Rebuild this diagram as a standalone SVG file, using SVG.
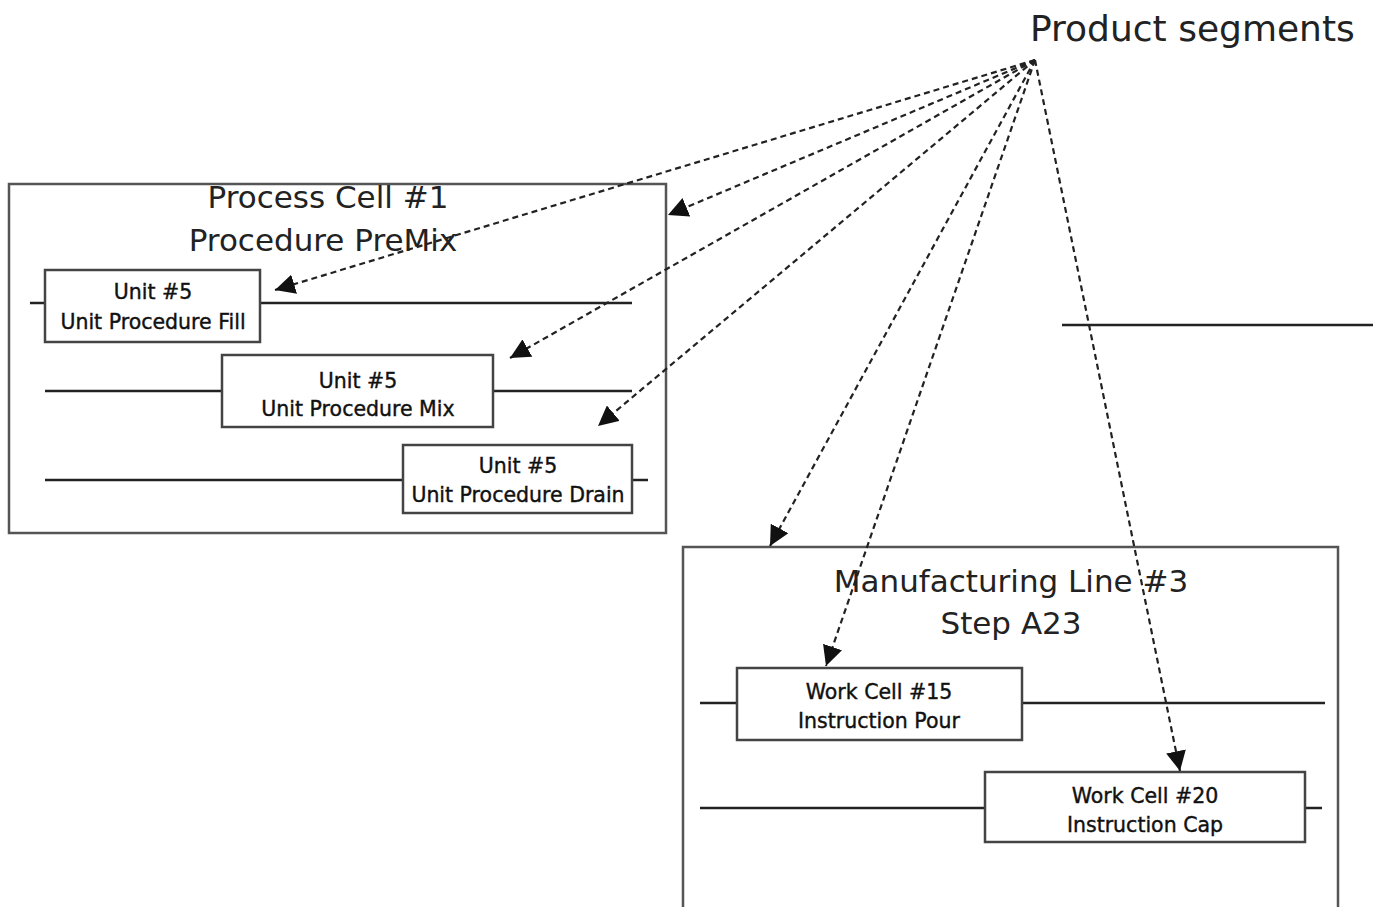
<svg xmlns="http://www.w3.org/2000/svg" width="1373" height="907" viewBox="0 0 1373 907">
  <defs>
    <marker id="arrow" viewBox="0 0 10 10" refX="10" refY="5" markerWidth="20" markerHeight="20" markerUnits="userSpaceOnUse" orient="auto">
      <path d="M0,0 L10,5 L0,10 z" fill="#111"/>
    </marker>
    <style>
      .frame { fill: #fff; stroke: #555; stroke-width: 2.5; }
      .box { fill: #fff; stroke: #444; stroke-width: 2.5; }
      .rail { stroke: #222; stroke-width: 2.5; fill: none; }
      .title { font-family: "DejaVu Sans", sans-serif; font-size: 31px; fill: #222; text-anchor: middle; }
      .label { font-family: "DejaVu Sans", sans-serif; font-size: 20.5px; fill: #111; stroke: #111; stroke-width: 0.4; text-anchor: middle; }
      .head { font-family: "DejaVu Sans", sans-serif; font-size: 36px; fill: #222; }
      .link { stroke: #222; stroke-width: 2.2; stroke-dasharray: 6 4; fill: none; marker-end: url(#arrow); }
    </style>
  </defs>
  <rect width="1373" height="907" fill="#fff"/>

  <!-- standalone heading -->
  <g id="product-segments">
    <text class="head" x="1030" y="41">Product segments</text>
  </g>

  <!-- loose rail on the right -->
  <line class="rail" x1="1062" y1="325" x2="1373" y2="325" stroke-width="1.5"/>

  <!-- batch area -->
  <g id="process-cell">
    <rect class="frame" x="9" y="184" width="657" height="349"/>
    <text class="title" x="328" y="208">Process Cell #1</text>
    <text class="title" x="323" y="251">Procedure PreMix</text>
  </g>
  <g id="rails-batch">
    <line class="rail" x1="30" y1="303" x2="45" y2="303"/>
    <line class="rail" x1="260" y1="303" x2="632" y2="303"/>
    <line class="rail" x1="45" y1="391" x2="222" y2="391"/>
    <line class="rail" x1="493" y1="391" x2="632" y2="391"/>
    <line class="rail" x1="45" y1="480" x2="403" y2="480"/>
    <line class="rail" x1="632" y1="480" x2="648" y2="480"/>
  </g>
  <g id="unit-fill">
    <rect class="box" x="45" y="270" width="215" height="72"/>
    <text class="label" x="153" y="299">Unit #5</text>
    <text class="label" x="153" y="329">Unit Procedure Fill</text>
  </g>
  <g id="unit-mix">
    <rect class="box" x="222" y="355" width="271" height="72"/>
    <text class="label" x="358" y="388">Unit #5</text>
    <text class="label" x="358" y="416">Unit Procedure Mix</text>
  </g>
  <g id="unit-drain">
    <rect class="box" x="403" y="445" width="229" height="68"/>
    <text class="label" x="518" y="473">Unit #5</text>
    <text class="label" x="518" y="502">Unit Procedure Drain</text>
  </g>

  <!-- discrete area -->
  <g id="manufacturing-line">
    <rect class="frame" x="683" y="547" width="655" height="380"/>
    <text class="title" x="1011" y="592">Manufacturing Line #3</text>
    <text class="title" x="1011" y="634">Step A23</text>
  </g>
  <g id="rails-discrete">
    <line class="rail" x1="700" y1="703" x2="737" y2="703"/>
    <line class="rail" x1="1022" y1="703" x2="1325" y2="703"/>
    <line class="rail" x1="700" y1="808" x2="985" y2="808"/>
    <line class="rail" x1="1305" y1="808" x2="1322" y2="808"/>
  </g>
  <g id="work-cell-15">
    <rect class="box" x="737" y="668" width="285" height="72"/>
    <text class="label" x="879" y="699">Work Cell #15</text>
    <text class="label" x="879" y="728">Instruction Pour</text>
  </g>
  <g id="work-cell-20">
    <rect class="box" x="985" y="772" width="320" height="70"/>
    <text class="label" x="1145" y="803">Work Cell #20</text>
    <text class="label" x="1145" y="832">Instruction Cap</text>
  </g>

  <!-- links from the product segments -->
  <g id="connectors">
    <line class="link" x1="1035" y1="60" x2="275" y2="290"/>
    <line class="link" x1="1035" y1="60" x2="668" y2="215"/>
    <line class="link" x1="1035" y1="60" x2="510" y2="358"/>
    <line class="link" x1="1035" y1="60" x2="598" y2="426"/>
    <line class="link" x1="1035" y1="60" x2="770" y2="546"/>
    <line class="link" x1="1035" y1="60" x2="826" y2="666"/>
    <line class="link" x1="1035" y1="60" x2="1180" y2="771"/>
  </g>
</svg>
